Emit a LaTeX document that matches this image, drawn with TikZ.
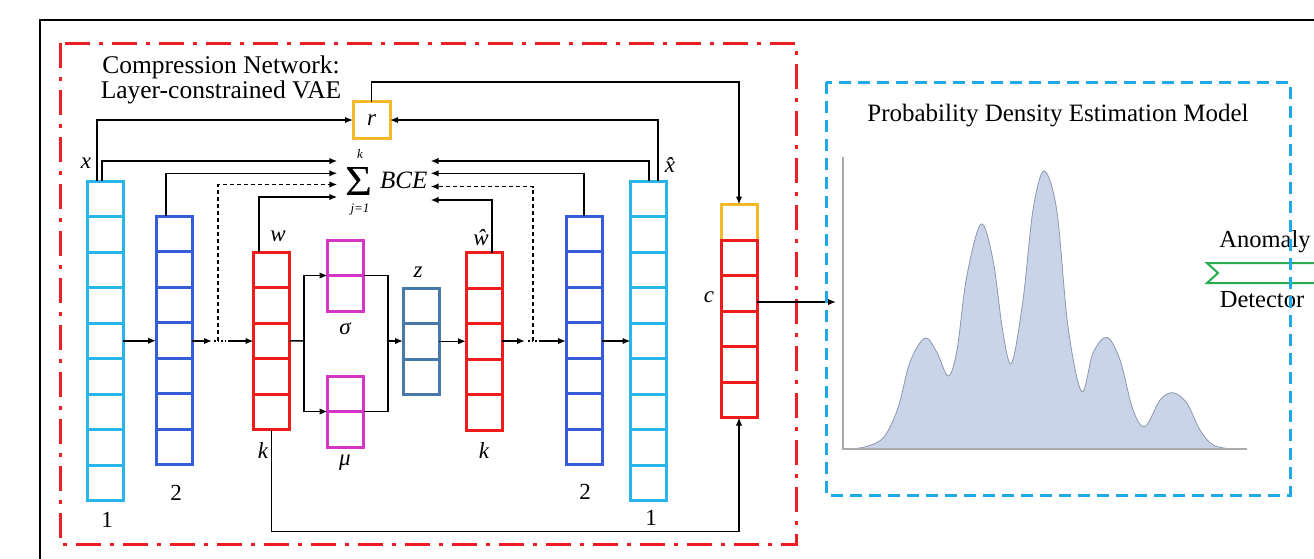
\documentclass[tikz,border=0pt]{standalone}
\usepackage{fontspec}
\usepackage{graphicx}
\setmainfont{Liberation Serif}
\usetikzlibrary{arrows.meta,calc}
\definecolor{cyanL}{RGB}{40,182,232}
\definecolor{blueL}{RGB}{55,92,215}
\definecolor{redL}{RGB}{240,28,28}
\definecolor{magL}{RGB}{212,52,200}
\definecolor{steelL}{RGB}{72,120,172}
\definecolor{yelL}{RGB}{246,186,40}
\definecolor{redbox}{RGB}{236,30,36}
\definecolor{bluebox}{RGB}{30,170,230}
\definecolor{greenL}{RGB}{40,172,80}
\definecolor{densfill}{RGB}{201,212,232}
\definecolor{densline}{RGB}{140,152,175}
\definecolor{axisg}{RGB}{170,170,170}
\newcommand{\mklayer}[5]{%
  \pgfmathsetmacro{\lyh}{#4*35.5}%
  \node[draw=#5, line width=3pt, minimum width=36pt, minimum height=\lyh pt, inner sep=0pt, outer sep=0pt, anchor=north] (#1) at (#2,#3) {};%
  \pgfmathtruncatemacro{\lyn}{#4-1}%
  \foreach \i in {1,...,\lyn}{\draw[draw=#5, line width=3pt] ($(#1.north west)!\i/#4!(#1.south west)$) -- ($(#1.north east)!\i/#4!(#1.south east)$);}%
}
\begin{document}
\begin{tikzpicture}[x=1pt,y=-1pt,
 conn/.style={line width=1.5pt, draw=black},
 arr/.style={conn, -{Latex[length=8pt,width=6.5pt]}},
 dconn/.style={dash pattern=on 4pt off 3pt},
 lbl/.style={font=\fontsize{23}{23}\selectfont\itshape, inner sep=0pt},
 num/.style={font=\fontsize{23}{23}\selectfont, inner sep=0pt},
 bigtxt/.style={font=\fontsize{25.5}{22}\selectfont, inner sep=0pt, align=center},
 ttl/.style={font=\fontsize{25}{25}\selectfont, inner sep=0pt},
 lim/.style={font=\fontsize{13}{13}\selectfont\itshape, inner sep=0pt},
]
\path[use as bounding box, clip] (0,0) rectangle (1314,558);
\fill[white] (0,0) rectangle (1314,558);

% outer frame
\draw[line width=2.5pt] (40,570) -- (40,20) -- (1330,20);

% compression network box
\draw[redbox, line width=3pt, dash pattern=on 25pt off 9pt on 4pt off 9pt] (60,43) rectangle (796,544);
\node[bigtxt, anchor=north] (cntitle) at (221,56) {Compression Network:\\Layer-constrained VAE};

% layers
\mklayer{x1}{105}{181}{9}{cyanL}
\mklayer{l2}{174}{216}{7}{blueL}
\mklayer{wk}{271.5}{252}{5}{redL}
\mklayer{sig}{345.5}{240}{2}{magL}
\mklayer{mu}{345.5}{376}{2}{magL}
\mklayer{z}{421}{288}{3}{steelL}
\mklayer{wh}{484}{252.5}{5}{redL}
\mklayer{l2h}{584}{216}{7}{blueL}
\mklayer{x1h}{648.5}{181}{9}{cyanL}
\node[draw=yelL, line width=3pt, minimum width=36pt, minimum height=35.5pt, inner sep=0pt, outer sep=0pt, anchor=north] (cy) at (739,204.5) {};
\mklayer{c}{739}{240}{5}{redL}
\node[draw=yelL, line width=3pt, minimum size=37pt, inner sep=0pt, outer sep=0pt, font=\fontsize{23}{23}\selectfont\itshape] (r) at (371.5,120) {r};

% sum BCE
\node[inner sep=0pt] (sum) at (359,181) {\resizebox*{27pt}{28pt}{Σ}};
\node[lim] (sk) at (360,154) {k};
\node[lim] (sj) at (360,210) {j=1};
\node[anchor=west, inner sep=0pt, font=\fontsize{25}{25}\selectfont\itshape] (bce) at (380,180) {BCE};
\coordinate (bl) at ([xshift=-8pt]sum.west);
\coordinate (br) at ([xshift=3pt]bce.east);
\coordinate (dL) at (218,341);
\coordinate (dR) at (533,341);

% connectors to r and c
\draw[arr] ([xshift=-8pt]x1.north) |- (r.west);
\draw[arr] ([xshift=9.5pt]x1h.north) |- (r.east);
\draw[arr] (r.north) -- (r.north |- 0,82) -| (cy.north);

% connectors to BCE
\draw[arr] ([xshift=-3pt]x1.north) |- (bl |- 0,161);
\draw[arr] ([xshift=-8pt]l2.north) |- (bl |- 0,173.3);
\draw[arr, dconn] (dL) |- (bl |- 0,184.5);
\draw[arr] ([xshift=-12.5pt]wk.north) |- (bl |- 0,197);
\draw[arr] ([xshift=0.5pt]x1h.north) |- (br |- 0,161);
\draw[arr] (l2h.north) |- (br |- 0,173.3);
\draw[arr, dconn] (dR) |- (br |- 0,186.5);
\draw[arr] ([xshift=8pt]wh.north) |- (br |- 0,200);

% forward chain
\draw[arr] (x1.east) -- (x1.east -| l2.west);
\draw[arr] (l2.east |- dL) -- ([xshift=-6pt]dL);
\draw[conn, dotted] ([xshift=-4pt]dL) -- ([xshift=9pt]dL);
\draw[arr] ([xshift=10pt]dL) -- (wk.west |- dL);
\coordinate (br1) at (304,341);
\draw[conn] (wk.east) -- (br1);
\draw[arr] (br1) |- (sig.west);
\draw[arr] (br1) |- (mu.west);
\coordinate (br2) at (388,341);
\draw[conn] (sig.east) -| (br2);
\draw[conn] (mu.east) -| (br2);
\draw[arr] (br2) -- (br2 -| z.west);
\draw[arr] (z.east) -- (z.east -| wh.west);
\draw[arr] (wh.east |- dR) -- ([xshift=-8pt]dR);
\draw[conn, dotted] ([xshift=-5pt]dR) -- ([xshift=7pt]dR);
\draw[arr] ([xshift=7pt]dR) -- (l2h.west |- dR);
\draw[arr] (l2h.east |- dR) -- (x1h.west |- dR);

% to c
\draw[arr] (wk.south) -- (wk.south |- 0,531.7) -| (c.south);
\coordinate (pin) at (836,302);
\draw[arr] (c.east |- pin) -- (pin);

% labels
\node[lbl] (lx) at (86,163) {x};
\node[lbl] (lxh) at (670,165) {\^{x}};
\node[lbl] (lw) at (278,236) {w};
\node[lbl] (lwh) at (481,238) {\^{w}};
\node[lbl] (lk1) at (263,451) {k};
\node[lbl] (lk2) at (484,451) {k};
\node[lbl] (lz) at (418,272) {z};
\node[lbl] (ls) at (345,329) {σ};
\node[lbl] (lm) at (345,463) {μ};
\node[lbl] (lc) at (709,297) {c};
\node[num] (n1) at (107,520) {1};
\node[num] (n2) at (176,493) {2};
\node[num] (n3) at (585,492) {2};
\node[num] (n4) at (651,518) {1};

% density model
\node[ttl] (pdem) at (1058,116) {Probability Density Estimation Model};
\filldraw[fill=densfill, draw=densline, line width=0.8pt] plot[smooth, tension=0.55] coordinates {
 (852,449) (868,446) (884,437) (898,408) (910,362) (925,338) (936.7,352) (948.3,376)
 (957,350) (966.7,276.7) (981,224) (993,260) (1003,333) (1011.7,363) (1023,300) (1033,210)
 (1044,171) (1056.7,210) (1068,327) (1081.7,391.7) (1093,353) (1107,337.3) (1120,360)
 (1133,410) (1145,426.7) (1160,400) (1173,392.7) (1186.7,403) (1200,430) (1213,445) (1232,449)} -- cycle;
\draw[axisg, line width=1.5pt] (843,157) -- (843,449) -- (1247,449);

% anomaly detector
\node[font=\fontsize{24.5}{24.5}\selectfont, inner sep=0pt] (anom) at (1265,241.7) {Anomaly};
\node[font=\fontsize{24.5}{24.5}\selectfont, inner sep=0pt] (det) at (1262,300) {Detector};
\draw[greenL, line width=2pt] (1330,263) -- (1207,263) -- (1218,273) -- (1207,283) -- (1330,283);

\draw[bluebox, line width=3pt, dash pattern=on 12pt off 7pt] (826,82) rectangle (1290,495);
\end{tikzpicture}
\end{document}
